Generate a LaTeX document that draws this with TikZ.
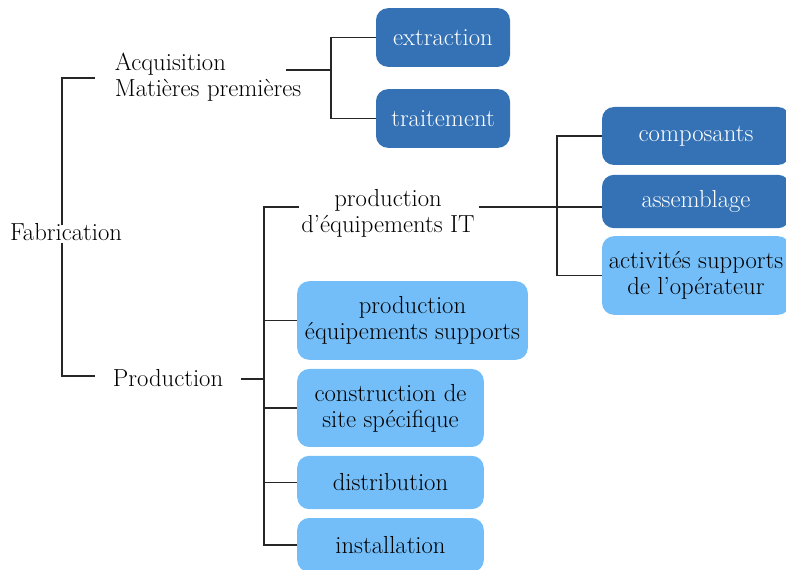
\documentclass[tikz,border=0pt]{standalone}
\usepackage{tikz}

\definecolor{darkblue}{RGB}{52,114,181}
\definecolor{lightblue}{RGB}{115,190,248}

\tikzset{
  box/.style={rounded corners=9pt, align=center, inner sep=0pt},
  darkbox/.style={box, fill=darkblue, text=white},
  lightbox/.style={box, fill=lightblue, text=black},
  branch/.style={draw=black!85, line width=0.8pt},
}

\begin{document}
\begin{tikzpicture}[x=0.75pt, y=-0.75pt, font=\fontsize{18.5}{19.5}\selectfont]
\useasboundingbox (0,0) rectangle (786,570);

% labels of the tree
\node (fab) at (66,232) {Fabrication};
\node[align=left] (acq) at (208,77) {Acquisition\\Mati\`eres premi\`eres};
\node (prod) at (168,378) {Production};
\node[align=center] (pit) at (388,213) {production\\d'\'equipements IT};

% boxes
\node[darkbox, minimum width=100.5pt, minimum height=44pt] (extr) at (443,37.5) {extraction};
\node[darkbox, minimum width=100.5pt, minimum height=44pt] (trait) at (443,118.5) {traitement};

\node[darkbox, minimum width=141pt, minimum height=43.5pt] (comp) at (696,136) {composants};
\node[darkbox, minimum width=141pt, minimum height=40pt] (asm) at (696,201.5) {assemblage};
\node[lightbox, minimum width=141pt, minimum height=59pt] (act) at (696,275.5) {activit\'es supports\\de l'op\'erateur};

\node[lightbox, minimum width=173pt, minimum height=59pt] (peq) at (412.5,320.5) {production\\\'equipements supports};
\node[lightbox, minimum width=140pt, minimum height=58.5pt] (cons) at (390.5,408) {construction de\\site sp\'ecifique};
\node[lightbox, minimum width=140pt, minimum height=40pt] (dist) at (390.5,482.5) {distribution};
\node[lightbox, minimum width=140pt, minimum height=40.5pt] (inst) at (390.5,545) {installation};

% junction points
\coordinate (acqL) at (95,78);
\coordinate (prodL) at (95,376);
\coordinate (acqR) at (286,70);
\coordinate (j1) at (331,70);
\coordinate (prodR) at (241,379);
\coordinate (j2) at (264,379);
\coordinate (pitL) at (299,207);
\coordinate (pitR) at (479,207);
\coordinate (j3) at (557,207);

% Fabrication
\path[branch] ([xshift=-3pt,yshift=-5pt]fab.north) |- (acqL);
\path[branch] ([xshift=-3pt,yshift=2pt]fab.south) |- (prodL);

% Acquisition
\path[branch] (acqR) -- (j1);
\path[branch] (extr.west) -| (j1) |- (trait.west);

% Production
\path[branch] (prodR) -- (j2);
\path[branch] (pitL) -| (inst.west -| j2) -- (inst.west);
\foreach \n in {peq,cons,dist}
  \path[branch] (\n.west -| j2) -- (\n.west);

% production d'equipements IT
\path[branch] (pitR) -- (pitR -| asm.west);
\path[branch] (comp.west) -| (j3) |- (act.west);

\end{tikzpicture}
\end{document}
